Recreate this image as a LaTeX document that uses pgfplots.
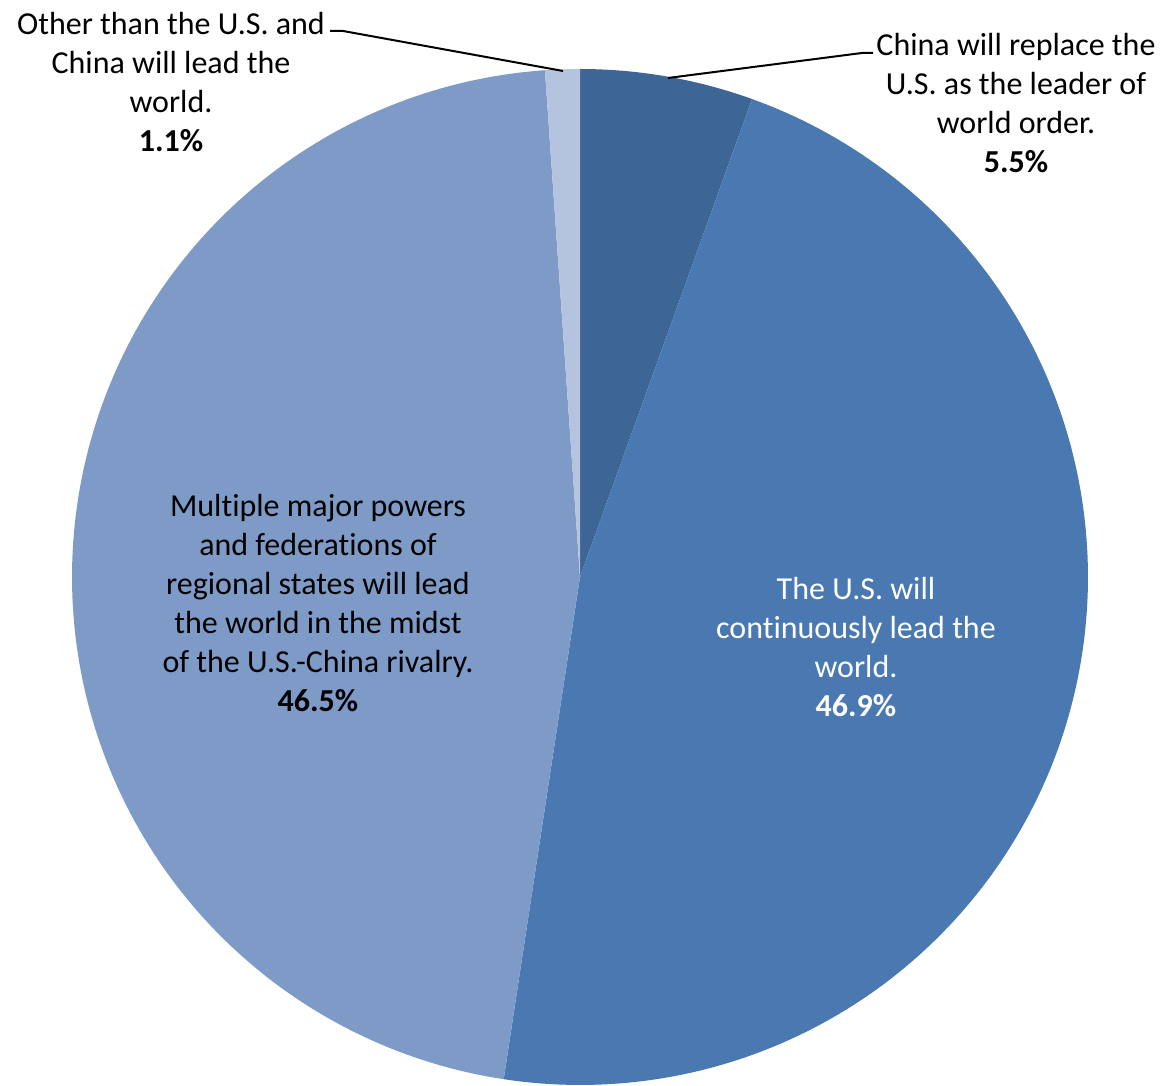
\documentclass[border=0pt]{standalone}
\usepackage{pgfplots}
\usepackage{pgfplotstable}
\pgfplotsset{compat=1.18}
\usepackage{fontspec}
\setmainfont{Carlito}[Ligatures={NoCommon}]
\definecolor{cChina}{HTML}{3D6595}
\definecolor{cUS}{HTML}{4A78B0}
\definecolor{cMulti}{HTML}{7E9BC7}
\definecolor{cOther}{HTML}{B4C3DE}
\pgfplotstableread{
label value
China 5.5
US 46.9
Multiple 46.5
Other 1.1
}\piedata
\pgfplotstablegetelem{0}{value}\of\piedata \let\vChina\pgfplotsretval
\pgfplotstablegetelem{1}{value}\of\piedata \let\vUS\pgfplotsretval
\pgfplotstablegetelem{2}{value}\of\piedata \let\vMulti\pgfplotsretval
\pgfplotstablegetelem{3}{value}\of\piedata \let\vOther\pgfplotsretval
\pgfmathsetmacro{\aA}{90}
\pgfmathsetmacro{\aB}{\aA-3.6*\vChina}
\pgfmathsetmacro{\aC}{\aB-3.6*\vUS}
\pgfmathsetmacro{\aD}{\aC-3.6*\vMulti}
\pgfmathsetmacro{\aE}{\aD-3.6*\vOther}
\begin{document}
\begin{tikzpicture}
\begin{axis}[
  width=582pt, height=543pt, scale only axis,
  xmin=-580, xmax=584, ymin=-509, ymax=577,
  hide axis, clip=false,
]
\draw[draw=none] (axis cs:-580,-509) rectangle (axis cs:584,577);
\addplot[fill=cChina, draw=none, data cs=polar, domain=\aB:\aA, samples=40] ({x},{508}) -- (axis cs:0,0) -- cycle;
\addplot[fill=cUS, draw=none, data cs=polar, domain=\aC:\aB, samples=160] ({x},{508}) -- (axis cs:0,0) -- cycle;
\addplot[fill=cMulti, draw=none, data cs=polar, domain=\aD:\aC, samples=160] ({x},{508}) -- (axis cs:0,0) -- cycle;
\addplot[fill=cOther, draw=none, data cs=polar, domain=\aE:\aD, samples=10] ({x},{508}) -- (axis cs:0,0) -- cycle;
\draw[black, line width=1pt] (axis cs:-250,546) -- (axis cs:-237,546) -- (axis cs:-17,506);
\draw[black, line width=1pt] (axis cs:88,499) -- (axis cs:282,524) -- (axis cs:293,524);
\node[align=center, font=\fontsize{16}{19.5}\selectfont, text=white] at (axis cs:276,-70)
  {The U.S. will\\continuously lead the\\world.\\\textbf{46.9\%}};
\node[align=center, font=\fontsize{16}{19.5}\selectfont, text=black] at (axis cs:-262,-26)
  {Multiple major powers\\and federations of\\regional states will lead\\the world in the midst\\of the U.S.-China rivalry.\\\textbf{46.5\%}};
\node[align=center, font=\fontsize{16}{19.5}\selectfont, text=black] at (axis cs:436,474)
  {China will replace the\\U.S. as the leader of\\world order.\\\textbf{5.5\%}};
\node[align=center, font=\fontsize{16}{19.5}\selectfont, text=black] at (axis cs:-409,495)
  {Other than the U.S. and\\China will lead the\\world.\\\textbf{1.1\%}};
\end{axis}
\end{tikzpicture}
\end{document}
